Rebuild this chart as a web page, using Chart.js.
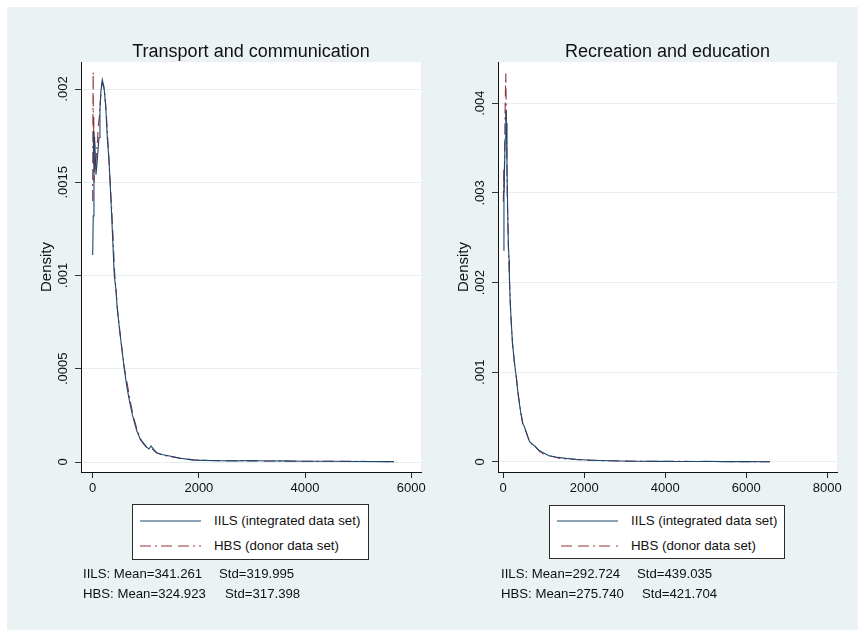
<!DOCTYPE html>
<html>
<head>
<meta charset="utf-8">
<script src="https://cdn.jsdelivr.net/npm/chart.js@4.4.1/dist/chart.umd.min.js"></script>
<style>
  body{margin:0;width:858px;height:630px;background:#fff;position:relative;overflow:hidden;font-family:"Liberation Sans",Arial,sans-serif;color:#111}
  #bg{position:absolute;left:7px;top:7px;width:851px;height:623px;background:#eaf2f3}
  canvas{position:absolute;top:0}
  .title{position:absolute;top:40px;font-size:18px;line-height:22px;text-align:center;white-space:nowrap}
  .legend{position:absolute;background:#fff;border:1px solid #2b2b2b;box-sizing:border-box}
  .lrow{position:absolute;height:20px;font-size:13.3px;line-height:20px;white-space:nowrap}
  .lrow svg{position:absolute;top:0}
  .stat{position:absolute;font-size:13.2px;line-height:16px;white-space:nowrap}
</style>
</head>
<body>
<div id="bg"></div>
<canvas id="cLeft" width="430" height="630" style="left:0;width:430px;height:630px"></canvas>
<canvas id="cRight" width="428" height="630" style="left:430px;width:428px;height:630px"></canvas>
<div id="overlay"></div>
<script>
// ---- Transport and communication: kernel density estimates ----
const transportIILS_x = [0, 11, 24, 43, 62, 87, 119, 137, 156, 181, 213, 245, 275, 307, 337, 358, 388, 407, 440, 463, 510, 565, 595, 640, 690, 750, 827, 900, 960, 1017, 1060, 1098, 1140, 1205, 1300, 1400, 1518, 1650, 1800, 1894, 2100, 2400, 2700, 3000, 3300, 3600, 4000, 4500, 5000, 5670];
const transportIILS_y = [0.00111, 0.00132, 0.00177, 0.00169, 0.00154, 0.00162, 0.00174, 0.00189, 0.00199, 0.00205, 0.00201, 0.00191, 0.00174, 0.00162, 0.00144, 0.00132, 0.00112, 0.00100, 0.00092, 0.00082, 0.00070, 0.00057, 0.00050, 0.00041, 0.00033, 0.00025, 0.00017, 0.00012, 0.00010, 0.00008, 0.00007, 0.000086, 0.00007, 0.00005, 0.00004, 0.000035, 0.000028, 0.00002, 0.000014, 0.00001, 0.000009, 0.000007, 0.000006, 0.000008, 0.000005, 0.000006, 0.000004, 0.000004, 0.000003, 0.000002];
const transportHBS_x = [0, 5, 10, 14, 20, 28, 36, 43, 55, 70, 90, 105, 125, 150, 175, 200, 230, 260, 290, 320, 350, 385, 410, 445, 470, 520, 560, 600, 650, 700, 760, 830, 890, 950, 1010, 1070, 1120, 1200, 1300, 1420, 1550, 1700, 1900, 2200, 2600, 3000, 3500, 4000, 4600, 5200, 5670];
const transportHBS_y = [0.00140, 0.00190, 0.00209, 0.00160, 0.00185, 0.00150, 0.00175, 0.00157, 0.00157, 0.00165, 0.00172, 0.00180, 0.00185, 0.00196, 0.00203, 0.00202, 0.00197, 0.00185, 0.00170, 0.00155, 0.00140, 0.00120, 0.00103, 0.00090, 0.00081, 0.00068, 0.00059, 0.00050, 0.00042, 0.00034, 0.00025, 0.00018, 0.00013, 0.00010, 0.00008, 0.00008, 0.00007, 0.00005, 0.00004, 0.00003, 0.000025, 0.000018, 0.000012, 0.000008, 0.000007, 0.000006, 0.000005, 0.000004, 0.000004, 0.000003, 0.000002];

// ---- Recreation and education: kernel density estimates ----
const recreationIILS_x = [5, 20, 35, 50, 65, 80, 95, 110, 130, 148, 155, 173, 198, 231, 281, 323, 366, 424, 481, 520, 566, 610, 649, 720, 800, 880, 967, 1050, 1133, 1300, 1551, 1800, 2053, 2400, 2887, 3300, 3800, 4300, 4800, 5000, 5400, 6000, 6590];
const recreationIILS_y = [0.00236, 0.0030, 0.0033, 0.0036, 0.00392, 0.00378, 0.0033, 0.00285, 0.0024, 0.00225, 0.00207, 0.0018, 0.00158, 0.00132, 0.0011, 0.00095, 0.00077, 0.00058, 0.00043, 0.00040, 0.00034, 0.00028, 0.00023, 0.0002, 0.00017, 0.00013, 0.00011, 0.00009, 0.00007, 0.000055, 0.00004, 0.00003, 0.000023, 0.000016, 0.000011, 0.000009, 0.000007, 0.000006, 0.000005, 0.000008, 0.000004, 0.000004, 0.000003];
const recreationHBS_x = [5, 15, 25, 35, 45, 55, 65, 75, 85, 100, 115, 130, 150, 175, 200, 235, 285, 330, 370, 430, 490, 570, 650, 730, 810, 900, 1000, 1150, 1400, 1700, 2000, 2500, 3000, 3600, 4200, 4800, 5400, 6000, 6590];
const recreationHBS_y = [0.0029, 0.00326, 0.0030, 0.0034, 0.0038, 0.0041, 0.00433, 0.0040, 0.0036, 0.0030, 0.0027, 0.0024, 0.0021, 0.00178, 0.00155, 0.0013, 0.00108, 0.00093, 0.00076, 0.00057, 0.00042, 0.00033, 0.00023, 0.00019, 0.00016, 0.00012, 0.00009, 0.00007, 0.00004, 0.00003, 0.000022, 0.000015, 0.00001, 0.000008, 0.000007, 0.000006, 0.000005, 0.000004, 0.000003];

// ---- Tick values and labels ----
const transportXTicks = [0, 2000, 4000, 6000];
const transportYTicks = [0, 0.0005, 0.001, 0.0015, 0.002];
const transportYLabels = ['0', '.0005', '.001', '.0015', '.002'];
const recreationXTicks = [0, 2000, 4000, 6000, 8000];
const recreationYTicks = [0, 0.001, 0.002, 0.003, 0.004];
const recreationYLabels = ['0', '.001', '.002', '.003', '.004'];

// ---- Text ----
const seriesNames = ['IILS (integrated data set)', 'HBS (donor data set)'];
const transportStats = [['IILS: Mean=341.261', 'Std=319.995'], ['HBS: Mean=324.923', 'Std=317.398']];
const recreationStats = [['IILS: Mean=292.724', 'Std=439.035'], ['HBS: Mean=275.740', 'Std=421.704']];

const NAVY = '#1a476f';
const MAROON = '#90353b';
const DASH = [11, 4, 2, 4, 11, 6];
const FONT = '"Liberation Sans", Arial, sans-serif';

const toPoints = (xs, ys) => xs.map((x, i) => ({x: x, y: ys[i]}));

// white plot region + rotated y tick labels and axis title
const plotDecor = {
  id: 'plotDecor',
  beforeDraw(chart) {
    const a = chart.chartArea, ctx = chart.ctx;
    ctx.save();
    ctx.fillStyle = '#fff';
    ctx.fillRect(a.left, a.top, a.right - a.left, a.bottom - a.top);
    ctx.restore();
  },
  afterDraw(chart, args, o) {
    const a = chart.chartArea, ctx = chart.ctx, ys = chart.scales.y;
    ctx.save();
    ctx.fillStyle = '#111';
    ctx.textAlign = 'center';
    ctx.textBaseline = 'middle';
    ctx.font = '13px ' + FONT;
    o.values.forEach((v, i) => {
      const py = ys.getPixelForValue(v);
      ctx.save();
      ctx.translate(a.left - 18, py);
      ctx.rotate(-Math.PI / 2);
      ctx.fillText(o.labels[i], 0, 0);
      ctx.restore();
    });
    ctx.font = '15px ' + FONT;
    ctx.translate(a.left - 34, (a.top + a.bottom) / 2);
    ctx.rotate(-Math.PI / 2);
    ctx.fillText('Density', 0, 0);
    ctx.restore();
  }
};

function makeChart(id, cfg) {
  return new Chart(document.getElementById(id), {
    type: 'line',
    data: {
      datasets: [
        {label: seriesNames[0], data: toPoints(cfg.ax, cfg.ay), borderColor: NAVY, borderWidth: 1.1, pointRadius: 0, tension: 0, fill: false},
        {label: seriesNames[1], data: toPoints(cfg.bx, cfg.by), borderColor: MAROON, borderWidth: 1.1, borderDash: DASH, pointRadius: 0, tension: 0, fill: false}
      ]
    },
    options: {
      responsive: false,
      animation: false,
      devicePixelRatio: 1,
      layout: {padding: {left: 0, top: 62, right: cfg.padRight, bottom: 128}},
      plugins: {
        legend: {display: false},
        tooltip: {enabled: false},
        plotDecor: {values: cfg.yTicks, labels: cfg.yLabels}
      },
      scales: {
        x: {
          type: 'linear',
          min: cfg.xMin, max: cfg.xMax,
          afterBuildTicks: s => { s.ticks = cfg.xTicks.map(v => ({value: v})); },
          afterFit: s => { s.height = 30; },
          grid: {drawOnChartArea: false, drawTicks: true, tickLength: 6, tickColor: '#222', tickWidth: 1},
          border: {display: true, color: '#111', width: 1},
          ticks: {color: '#111', font: {family: FONT, size: 13}, padding: 3, maxRotation: 0, callback: v => String(v)}
        },
        y: {
          type: 'linear',
          min: cfg.yMin, max: cfg.yMax,
          afterBuildTicks: s => { s.ticks = cfg.yTicks.map(v => ({value: v})); },
          afterFit: s => { s.width = cfg.yWidth; },
          grid: {drawOnChartArea: true, color: '#e6eef0', lineWidth: 1, drawTicks: true, tickLength: 6, tickColor: '#333', tickWidth: 1},
          border: {display: true, color: '#111', width: 1},
          ticks: {display: false}
        }
      }
    },
    plugins: [plotDecor]
  });
}

makeChart('cLeft', {
  ax: transportIILS_x, ay: transportIILS_y, bx: transportHBS_x, by: transportHBS_y,
  xMin: -220, xMax: 6183, yMin: -0.0000536, yMax: 0.002145,
  xTicks: transportXTicks, yTicks: transportYTicks, yLabels: transportYLabels,
  yWidth: 81, padRight: 9
});
makeChart('cRight', {
  ax: recreationIILS_x, ay: recreationIILS_y, bx: recreationHBS_x, by: recreationHBS_y,
  xMin: -127, xMax: 8243, yMin: -0.0001115, yMax: 0.004459,
  xTicks: recreationXTicks, yTicks: recreationYTicks, yLabels: recreationYLabels,
  yWidth: 68, padRight: 21
});

// ---- titles, legends, summary statistics ----
const overlay = document.getElementById('overlay');
function addTitle(text, left, width) {
  const d = document.createElement('div');
  d.className = 'title';
  d.style.left = left + 'px'; d.style.width = width + 'px';
  d.textContent = text;
  overlay.appendChild(d);
}
function addLegend(left, top, w, h, rowYs, dashOffset) {
  const box = document.createElement('div');
  box.className = 'legend';
  Object.assign(box.style, {left: left + 'px', top: top + 'px', width: w + 'px', height: h + 'px'});
  seriesNames.forEach((name, i) => {
    const row = document.createElement('div');
    row.className = 'lrow';
    row.style.left = '0px'; row.style.top = (rowYs[i] - 10) + 'px'; row.style.width = (w - 2) + 'px';
    const dash = i === 0 ? '' : ' stroke-dasharray="' + DASH.join(' ') + '" stroke-dashoffset="' + dashOffset + '"';
    row.innerHTML = '<svg width="70" height="20" style="left:6px"><line x1="1" y1="10" x2="62" y2="10" stroke="' +
      (i === 0 ? NAVY : MAROON) + '" stroke-width="1.2"' + dash + '/></svg>' +
      '<span style="position:absolute;left:81px;top:0">' + name + '</span>';
    box.appendChild(row);
  });
  overlay.appendChild(box);
}
function addStats(rows, left, stdLefts, ys) {
  rows.forEach((r, i) => {
    const a = document.createElement('div');
    a.className = 'stat';
    a.style.left = left + 'px'; a.style.top = (ys[i] - 8) + 'px';
    a.textContent = r[0];
    const b = document.createElement('div');
    b.className = 'stat';
    b.style.left = stdLefts[i] + 'px'; b.style.top = (ys[i] - 8) + 'px';
    b.textContent = r[1];
    overlay.appendChild(a); overlay.appendChild(b);
  });
}
addTitle('Transport and communication', 81, 340);
addTitle('Recreation and education', 498, 339);
addLegend(132, 504, 237, 56, [16, 41], 0);
addLegend(549, 505, 236, 54, [15, 40], 17);
addStats(transportStats, 83, [219, 225], [574, 594]);
addStats(recreationStats, 501, [637, 642], [574, 594]);
</script>
</body>
</html>
